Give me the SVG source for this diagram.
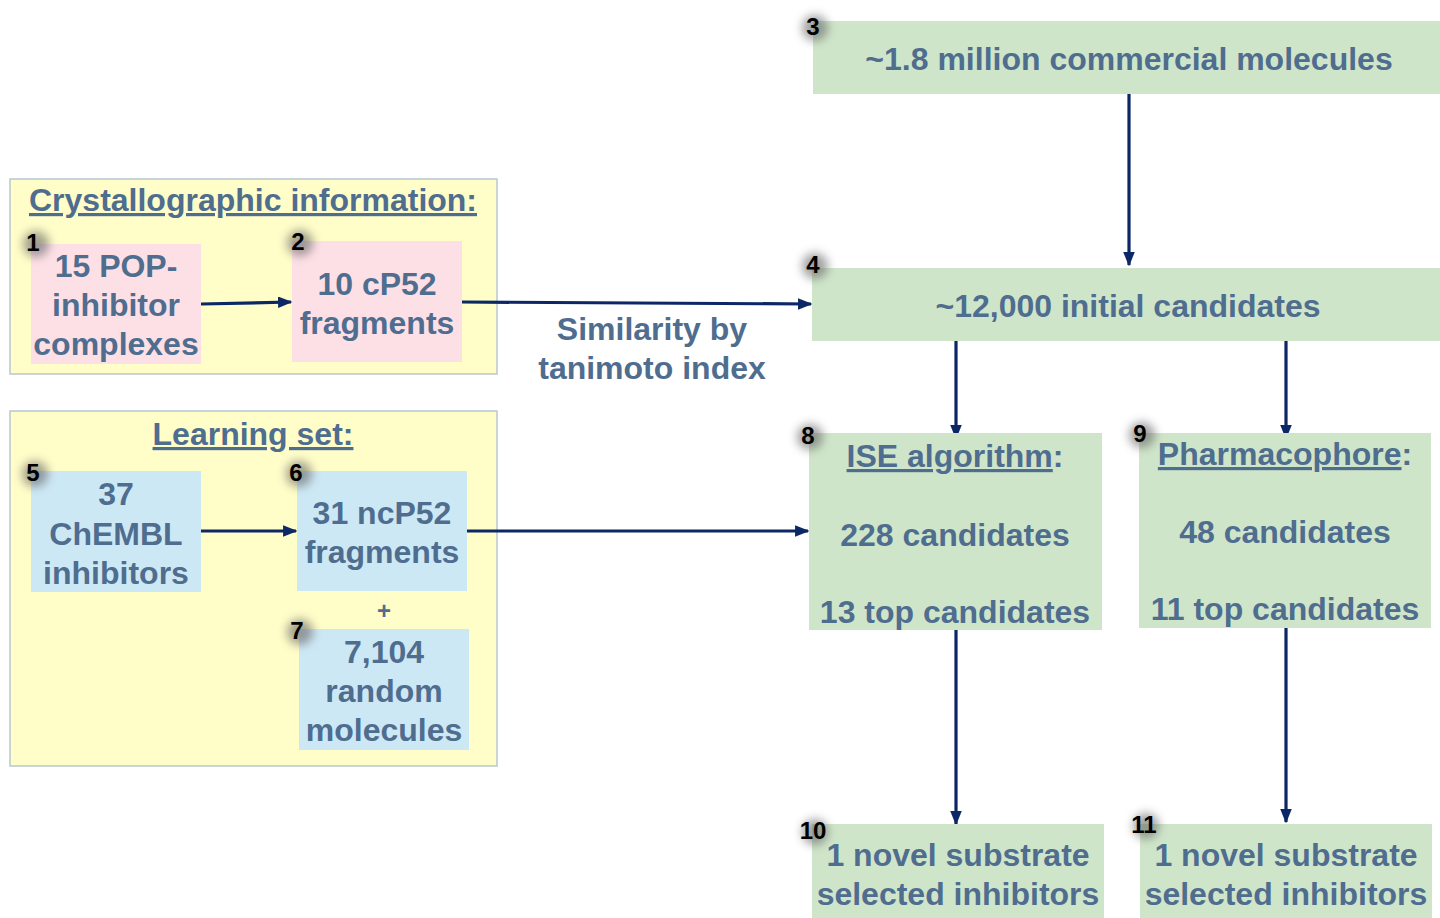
<svg xmlns="http://www.w3.org/2000/svg" width="1440" height="918" viewBox="0 0 1440 918">
<defs>
<style>
.t{font-family:"Liberation Sans",Arial,sans-serif;font-weight:bold;font-size:32px;fill:#4f6d8f;text-anchor:middle}
.n{font-family:"Liberation Sans",Arial,sans-serif;font-weight:bold;font-size:24px;fill:#000;text-anchor:middle}
.u{text-decoration:underline}
.outer{fill:#fffdc8;stroke:#b9c7cf;stroke-width:1.5}
.pink{fill:#fde0e6}
.blue{fill:#cde8f5}
.green{fill:#cfe5c9}
.c{stroke:#0c2766;stroke-width:3.2;fill:none;marker-end:url(#ah)}
.g{fill:#666;opacity:0.6;filter:url(#blur)}
</style>
<marker id="ah" viewBox="0 0 10 8" refX="9" refY="4" markerWidth="4.5" markerHeight="3.6" orient="auto" markerUnits="strokeWidth">
<path d="M0,0 L10,4 L0,8 z" fill="#0c2766"/>
</marker>
<filter id="blur" x="-1" y="-1" width="3" height="3"><feGaussianBlur stdDeviation="5"/></filter>
</defs>
<rect width="1440" height="918" fill="#fff"/>

<g id="crystal-group">
<rect class="outer" x="10" y="179" width="487" height="195"/>
<text class="t" x="253" y="211"><tspan class="u">Crystallographic information:</tspan></text>
</g>
<g id="learning-group">
<rect class="outer" x="10" y="411" width="487" height="355"/>
<text class="t" x="253" y="445"><tspan class="u">Learning set:</tspan></text>
<text class="t" x="384" y="619" style="font-size:24px">+</text>
</g>

<g id="connectors">
<line class="c" x1="201" y1="304" x2="291" y2="302"/>
<line class="c" x1="462" y1="302" x2="811" y2="304"/>
<line class="c" x1="1129" y1="94" x2="1129" y2="265"/>
<line class="c" x1="201" y1="531" x2="296" y2="531"/>
<line class="c" x1="467" y1="531" x2="808" y2="531"/>
<line class="c" x1="956" y1="341" x2="956" y2="438"/>
<line class="c" x1="1286" y1="341" x2="1286" y2="438"/>
<line class="c" x1="956" y1="630" x2="956" y2="824"/>
<line class="c" x1="1286" y1="628" x2="1286" y2="822"/>
<text class="t" x="652" y="340">Similarity by</text>
<text class="t" x="652" y="379">tanimoto index</text>
</g>

<g id="node1">
<rect class="pink" x="31" y="244" width="170" height="120"/>
<circle class="g" cx="36" cy="244" r="13"/>
<text class="n" x="33" y="251">1</text>
<text class="t" x="116" y="277">15 POP-</text>
<text class="t" x="116" y="316">inhibitor</text>
<text class="t" x="116" y="355">complexes</text>
</g>
<g id="node2">
<rect class="pink" x="292" y="241" width="170" height="121"/>
<circle class="g" cx="300" cy="243" r="13"/>
<text class="n" x="298" y="250">2</text>
<text class="t" x="377" y="295">10 cP52</text>
<text class="t" x="377" y="334">fragments</text>
</g>
<g id="node3">
<rect class="green" x="813" y="21" width="627" height="73"/>
<circle class="g" cx="815" cy="28" r="13"/>
<text class="n" x="813" y="35">3</text>
<text class="t" x="1129" y="70">~1.8 million commercial molecules</text>
</g>
<g id="node4">
<rect class="green" x="812" y="268" width="628" height="73"/>
<circle class="g" cx="815" cy="266" r="13"/>
<text class="n" x="813" y="273">4</text>
<text class="t" x="1128" y="317">~12,000 initial candidates</text>
</g>
<g id="node5">
<rect class="blue" x="31" y="471" width="170" height="121"/>
<circle class="g" cx="35" cy="474" r="13"/>
<text class="n" x="33" y="481">5</text>
<text class="t" x="116" y="505">37</text>
<text class="t" x="116" y="545">ChEMBL</text>
<text class="t" x="116" y="584">inhibitors</text>
</g>
<g id="node6">
<rect class="blue" x="297" y="471" width="170" height="120"/>
<circle class="g" cx="299" cy="474" r="13"/>
<text class="n" x="296" y="481">6</text>
<text class="t" x="382" y="524">31 ncP52</text>
<text class="t" x="382" y="563">fragments</text>
</g>
<g id="node7">
<rect class="blue" x="299" y="629" width="170" height="121"/>
<circle class="g" cx="300" cy="632" r="13"/>
<text class="n" x="297" y="639">7</text>
<text class="t" x="384" y="663">7,104</text>
<text class="t" x="384" y="702">random</text>
<text class="t" x="384" y="741">molecules</text>
</g>
<g id="node8">
<rect class="green" x="809" y="433" width="293" height="197"/>
<circle class="g" cx="810" cy="437" r="13"/>
<text class="n" x="808" y="444">8</text>
<text class="t" x="955" y="467"><tspan class="u">ISE algorithm</tspan>:</text>
<text class="t" x="955" y="546">228 candidates</text>
<text class="t" x="955" y="623">13 top candidates</text>
</g>
<g id="node9">
<rect class="green" x="1139" y="433" width="292" height="195"/>
<circle class="g" cx="1142" cy="435" r="13"/>
<text class="n" x="1140" y="442">9</text>
<text class="t" x="1285" y="465"><tspan class="u">Pharmacophore</tspan>:</text>
<text class="t" x="1285" y="543">48 candidates</text>
<text class="t" x="1285" y="620">11 top candidates</text>
</g>
<g id="node10">
<rect class="green" x="812" y="824" width="292" height="94"/>
<circle class="g" cx="815" cy="832" r="13"/>
<text class="n" x="813" y="839">10</text>
<text class="t" x="958" y="866">1 novel substrate</text>
<text class="t" x="958" y="905">selected inhibitors</text>
</g>
<g id="node11">
<rect class="green" x="1140" y="824" width="292" height="94"/>
<circle class="g" cx="1146" cy="826" r="13"/>
<text class="n" x="1144" y="833">11</text>
<text class="t" x="1286" y="866">1 novel substrate</text>
<text class="t" x="1286" y="905">selected inhibitors</text>
</g>
</svg>
